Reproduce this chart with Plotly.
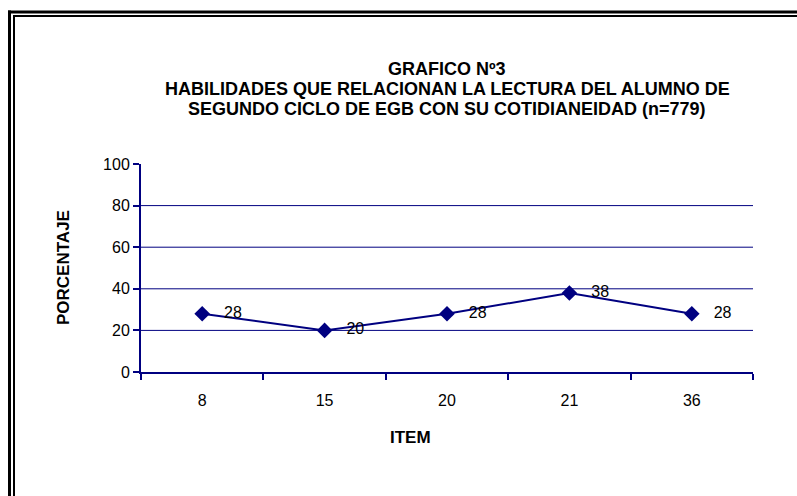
import plotly.graph_objects as go

items = ["8", "15", "20", "21", "36"]
porcentaje = [28, 20, 28, 38, 28]
y_ticks = [0, 20, 40, 60, 80, 100]
grid_vals = [20, 40, 60, 80]

title_lines = [
    "GRAFICO Nº3",
    "HABILIDADES QUE RELACIONAN LA LECTURA DEL ALUMNO DE",
    "SEGUNDO CICLO DE EGB CON SU COTIDIANEIDAD (n=779)",
]

W, H = 797, 496
L, R, T, B = 141, 44, 164, 124
pw, ph = W - L - R, H - T - B

def px(x):
    return (x - L) / pw

def py(y):
    return (H - B - y) / ph

navy = "#000080"
font = "Liberation Sans, Arial, sans-serif"

fig = go.Figure()
fig.add_trace(go.Scatter(
    x=items, y=porcentaje, mode="lines+markers+text",
    line=dict(color=navy, width=2),
    marker=dict(symbol="diamond", size=12, color=navy),
    text=[f"{v}" for v in porcentaje],
    textposition="middle right",
    texttemplate="   %{text}",
    textfont=dict(family=font, size=16, color="black"),
    cliponaxis=False,
    showlegend=False,
    hoverinfo="skip",
))

shapes = []
for g in grid_vals:
    shapes.append(dict(type="line", xref="paper", yref="y", x0=0, x1=1, y0=g, y1=g,
                       line=dict(color=navy, width=1), layer="below"))
# double frame (only left and top edges are visible in the reference)
for xe, ye, w in [(9.5, 12, 3), (14, 16, 2)]:
    shapes.append(dict(type="line", xref="paper", yref="paper",
                       x0=px(xe), x1=px(xe), y0=py(ye - w / 2), y1=py(H + 20),
                       line=dict(color="black", width=w)))
    shapes.append(dict(type="line", xref="paper", yref="paper",
                       x0=px(xe - w / 2), x1=px(W + 20), y0=py(ye), y1=py(ye),
                       line=dict(color="black", width=w)))

annotations = []
for i, t in enumerate(title_lines):
    annotations.append(dict(text=f"<b>{t}</b>", xref="paper", yref="paper",
                            x=0.5, y=py(69 + 20 * i), showarrow=False,
                            xanchor="center", yanchor="middle",
                            font=dict(family=font, size=18, color="black")))
annotations.append(dict(text="<b>ITEM</b>", xref="paper", yref="paper", x=px(410), y=py(437),
                        showarrow=False, xanchor="center", yanchor="middle",
                        font=dict(family=font, size=17, color="black")))
annotations.append(dict(text="<b>PORCENTAJE</b>", xref="paper", yref="paper", x=px(63), y=py(268),
                        showarrow=False, xanchor="center", yanchor="middle", textangle=-90,
                        font=dict(family=font, size=17, color="black")))

fig.update_layout(
    width=W, height=H,
    margin=dict(l=L, r=R, t=T, b=B, pad=0),
    paper_bgcolor="white", plot_bgcolor="white",
    shapes=shapes, annotations=annotations,
    xaxis=dict(type="category", showgrid=False, showline=True, linecolor=navy, linewidth=2,
               ticks="outside", tickson="boundaries", ticklen=6, tickcolor=navy, tickwidth=2,
               ticklabelstandoff=13,
               tickfont=dict(family=font, size=16, color="black"), zeroline=False,
               range=[-0.5, 4.5]),
    yaxis=dict(range=[0, 100], tickvals=y_ticks, showgrid=False, showline=True,
               linecolor=navy, linewidth=2, ticks="outside", ticklen=6, tickcolor=navy,
               tickwidth=2, tickfont=dict(family=font, size=16, color="black"),
               zeroline=False),
)

fig.write_html(
    "out.html",
    config={"displayModeBar": False},
    post_script="document.body.style.margin='0';document.body.style.overflow='hidden';",
)
